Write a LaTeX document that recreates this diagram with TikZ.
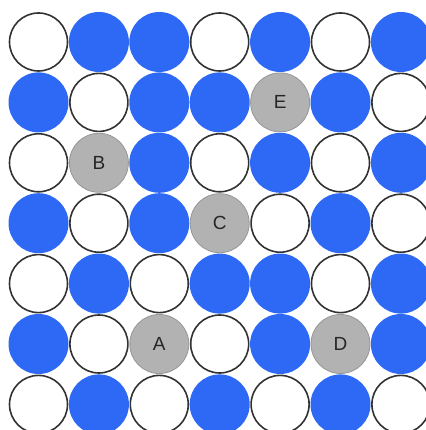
\documentclass[tikz,border=0pt]{standalone}
\usepackage{fontspec}
\setmainfont{Liberation Sans}
\definecolor{dotblue}{RGB}{45,105,245}
\definecolor{dotgray}{RGB}{178,178,178}
\definecolor{ringgray}{RGB}{150,150,150}
\definecolor{ringdark}{RGB}{50,50,50}
\tikzset{
  wdot/.style={circle,minimum size=58pt,inner sep=0pt,fill=white,draw=ringdark,line width=1.6pt},
  bdot/.style={circle,minimum size=60pt,inner sep=0pt,fill=dotblue,draw=none},
  gdot/.style={circle,minimum size=59pt,inner sep=0pt,fill=dotgray,draw=ringgray,line width=0.8pt,font=\fontsize{19}{22}\selectfont,text=black!85}
}
\begin{document}
\begin{tikzpicture}[x=1pt,y=-1pt]
\useasboundingbox (0,0) rectangle (425,430);
\def\pitch{60.4}
% rows: w = white, b = blue, letter = gray labelled
\foreach \row [count=\r from 0] in {
  {w,b,b,w,b,w,b},
  {b,w,b,b,E,b,w},
  {w,B,b,w,b,w,b},
  {b,w,b,C,w,b,w},
  {w,b,w,b,b,w,b},
  {b,w,A,w,b,D,b},
  {w,b,w,b,w,b,w}} {
  \foreach \c [count=\k from 0] in \row {
    \pgfmathsetmacro{\xx}{38.5+\k*\pitch}
    \pgfmathsetmacro{\yy}{42+\r*\pitch}
    \if\c w
      \node[wdot] (n\r-\k) at (\xx,\yy) {};
    \else\if\c b
      \node[bdot] (n\r-\k) at (\xx,\yy) {};
    \else
      \node[gdot] (n\r-\k) at (\xx,\yy) {\c};
    \fi\fi
  }
}
\end{tikzpicture}
\end{document}
